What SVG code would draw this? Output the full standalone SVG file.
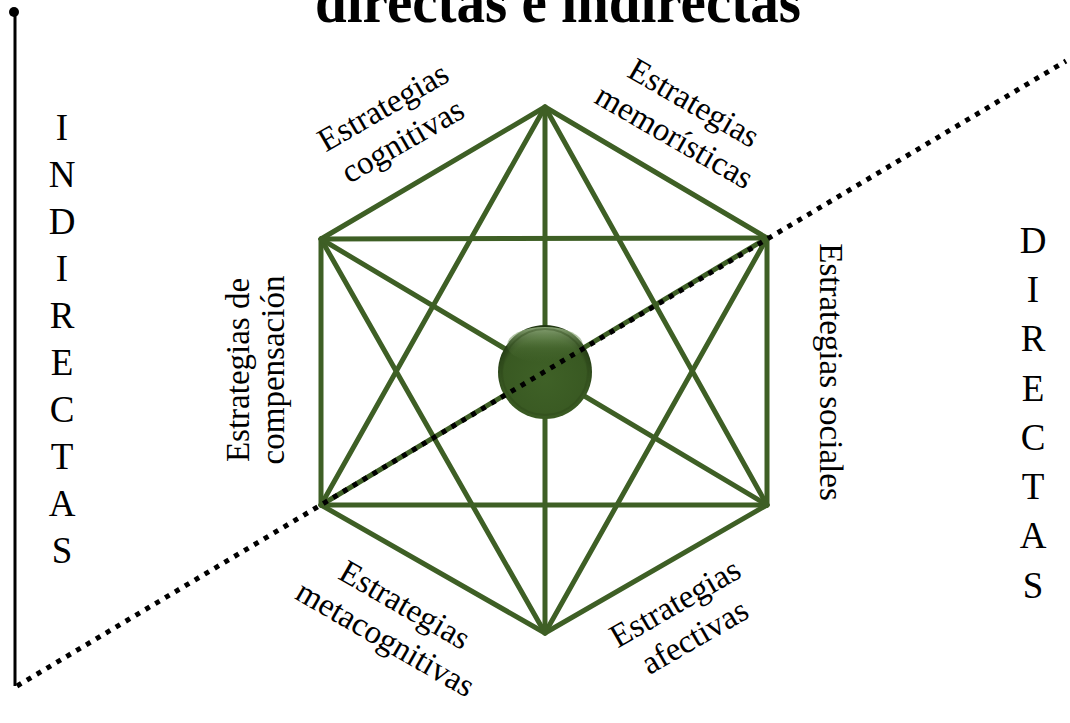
<svg xmlns="http://www.w3.org/2000/svg" width="1070" height="723" viewBox="0 0 1070 723">
<defs>
<style>
.g{stroke:#3e5f25;stroke-width:5;fill:none;stroke-linecap:round;stroke-linejoin:round}
.t{font-family:"Liberation Serif","Times New Roman",serif;font-size:33px;fill:#000;text-anchor:middle}
.l{font-family:"Liberation Serif","Times New Roman",serif;font-size:37px;fill:#000;text-anchor:middle}
</style>
<radialGradient id="ball" cx="50%" cy="58%" r="55%">
<stop offset="0" stop-color="#3f6127"/>
<stop offset="0.82" stop-color="#395922"/>
<stop offset="1" stop-color="#223813"/>
</radialGradient>
<linearGradient id="hl" x1="0" y1="0" x2="0" y2="1">
<stop offset="0" stop-color="#9cb888" stop-opacity="0.85"/>
<stop offset="0.6" stop-color="#5b7c43" stop-opacity="0.3"/>
<stop offset="1" stop-color="#4a6b33" stop-opacity="0"/>
</linearGradient>
</defs>
<rect width="1070" height="723" fill="#fff"/>
<text x="558" y="22" font-family="Liberation Serif, Times New Roman, serif" font-weight="bold" font-size="62" text-anchor="middle" textLength="486" lengthAdjust="spacingAndGlyphs">directas e indirectas</text>
<g id="axis">
<line x1="15" y1="12" x2="15" y2="686" stroke="#000" stroke-width="3"/>
<circle cx="14" cy="12" r="5" fill="#000"/>
</g>
<g id="connectors">
<polygon class="g" points="545,107 767,238 767,505 545,633 321,505 321,239"/>
<line class="g" x1="545" y1="107" x2="321" y2="505"/>
<line class="g" x1="545" y1="107" x2="767" y2="505"/>
<line class="g" x1="545" y1="633" x2="321" y2="239"/>
<line class="g" x1="545" y1="633" x2="767" y2="238"/>
<line class="g" x1="321" y1="239" x2="767" y2="238"/>
<line class="g" x1="321" y1="505" x2="767" y2="505"/>
<line class="g" x1="545" y1="107" x2="545" y2="633"/>
<line class="g" x1="321" y1="239" x2="767" y2="505"/>
<line class="g" x1="767" y1="238" x2="321" y2="505"/>
</g>
<g id="center">
<circle cx="545" cy="372" r="47" fill="url(#ball)"/>
<ellipse cx="545" cy="345" rx="38" ry="18" fill="url(#hl)"/>
<circle cx="545" cy="372" r="43" fill="none" stroke="#2c4619" stroke-width="2" stroke-opacity="0.4"/>
</g>
<g id="divider">
<line x1="17" y1="686" x2="1066" y2="61" stroke="#000" stroke-width="5" stroke-dasharray="5 6.5"/>
</g>
<g id="label-cognitivas" transform="translate(393,124) rotate(-30)">
<text class="t" x="0" y="-9">Estrategias</text>
<text class="t" x="0" y="30">cognitivas</text>
</g>
<g id="label-memoristicas" transform="translate(684,120) rotate(30)">
<text class="t" x="0" y="-9">Estrategias</text>
<text class="t" x="0" y="30">memorísticas</text>
</g>
<g id="label-compensacion" transform="translate(257,370) rotate(-90)">
<text class="t" x="0" y="-8">Estrategias de</text>
<text class="t" x="0" y="27">compensación</text>
</g>
<g id="label-sociales" transform="translate(830,372) rotate(90)">
<text class="t" x="0" y="10">Estrategias sociales</text>
</g>
<g id="label-metacognitivas" transform="translate(395,622) rotate(30)">
<text class="t" x="0" y="-9">Estrategias</text>
<text class="t" x="0" y="30">metacognitivas</text>
</g>
<g id="label-afectivas" transform="translate(685,620) rotate(-30)">
<text class="t" x="0" y="-9">Estrategias</text>
<text class="t" x="0" y="30">afectivas</text>
</g>
<g id="indirectas">
<text class="l" x="62" y="140">I</text>
<text class="l" x="62" y="187">N</text>
<text class="l" x="62" y="234">D</text>
<text class="l" x="62" y="281">I</text>
<text class="l" x="62" y="328">R</text>
<text class="l" x="62" y="375">E</text>
<text class="l" x="62" y="422">C</text>
<text class="l" x="62" y="469">T</text>
<text class="l" x="62" y="516">A</text>
<text class="l" x="62" y="563">S</text>
</g>
<g id="directas">
<text class="l" x="1033" y="253">D</text>
<text class="l" x="1033" y="302">I</text>
<text class="l" x="1033" y="351">R</text>
<text class="l" x="1033" y="401">E</text>
<text class="l" x="1033" y="450">C</text>
<text class="l" x="1033" y="499">T</text>
<text class="l" x="1033" y="548">A</text>
<text class="l" x="1033" y="598">S</text>
</g>
</svg>
